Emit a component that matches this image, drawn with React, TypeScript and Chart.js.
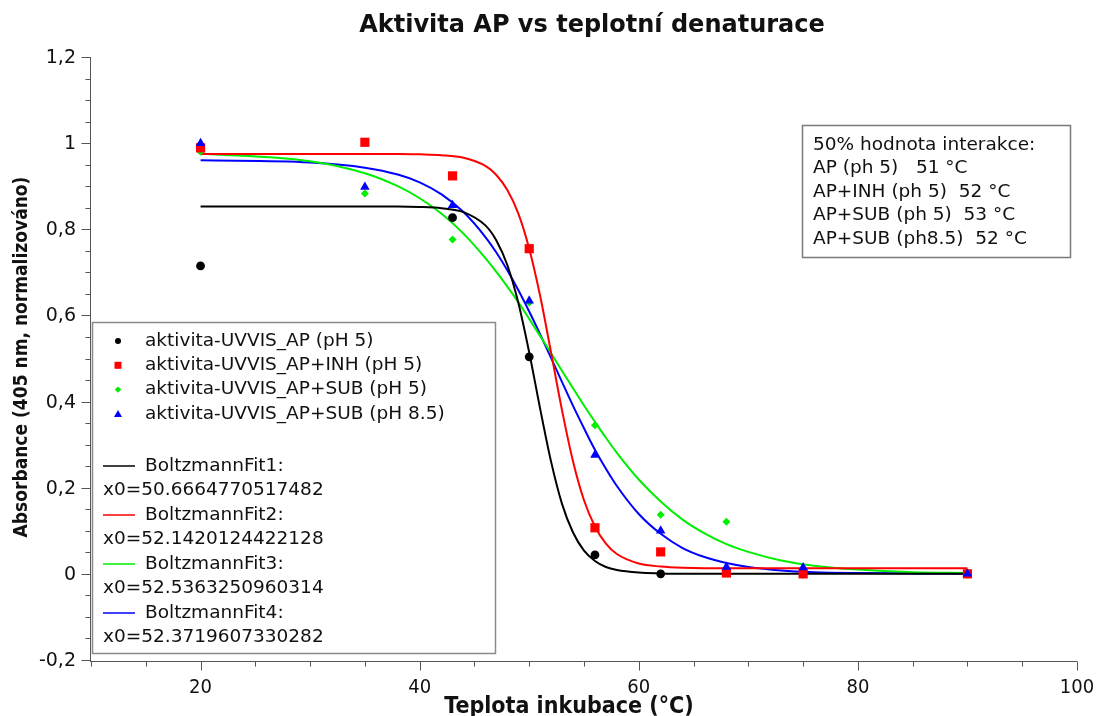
import { useEffect, useRef } from "react";
import { Chart, registerables } from "chart.js";

Chart.register(...registerables);

// Measured activity (normalised absorbance at 405 nm) vs incubation temperature
const tempC = [20, 35, 43, 50, 56, 62, 68, 75, 90];
const apTempC = [20, 43, 50, 56, 62, 68, 75, 90];
const apPH5 = [0.715, 0.827, 0.504, 0.044, 0.0, 0.003, 0.0, 0.0];
const apInhPH5 = [0.989, 1.002, 0.924, 0.755, 0.107, 0.051, 0.002, 0.0, 0.0];
const apSubPH5 = [0.98, 0.883, 0.776, 0.63, 0.345, 0.137, 0.121, 0.005, 0.0];
const apSubPH85 = [1.0, 0.898, 0.856, 0.634, 0.276, 0.1, 0.016, 0.015, 0.0];

// Boltzmann fit curves, sampled along the temperature axis
const fitTempC = [20, 30, 35, 38, 40, 42, 44, 46, 47, 48, 49, 50, 51, 52, 53, 54, 55, 56, 57, 58, 60, 62, 64, 66, 68, 70, 73, 76, 80, 85, 90];
const fit1 = [0.853, 0.853, 0.853, 0.853, 0.852, 0.849, 0.84, 0.809, 0.774, 0.717, 0.63, 0.514, 0.383, 0.26, 0.162, 0.096, 0.054, 0.03, 0.016, 0.009, 0.003, 0.001, 0, 0, 0, 0, 0, 0, 0, 0, 0];
const fit2 = [0.975, 0.975, 0.975, 0.975, 0.974, 0.972, 0.966, 0.947, 0.926, 0.891, 0.837, 0.755, 0.645, 0.513, 0.379, 0.261, 0.171, 0.11, 0.07, 0.046, 0.024, 0.017, 0.014, 0.013, 0.013, 0.013, 0.013, 0.013, 0.013, 0.013, 0.013];
const fit3 = [0.976, 0.958, 0.93, 0.9, 0.872, 0.836, 0.79, 0.733, 0.701, 0.667, 0.631, 0.592, 0.552, 0.512, 0.471, 0.431, 0.391, 0.353, 0.316, 0.281, 0.219, 0.168, 0.126, 0.094, 0.069, 0.051, 0.031, 0.019, 0.01, 0.004, 0.002];
const fit4 = [0.96, 0.955, 0.943, 0.927, 0.909, 0.881, 0.84, 0.782, 0.746, 0.705, 0.659, 0.609, 0.556, 0.501, 0.445, 0.39, 0.338, 0.288, 0.244, 0.204, 0.139, 0.093, 0.06, 0.039, 0.025, 0.016, 0.008, 0.004, 0.002, 0.001, 0];

const seriesNames = [
  "aktivita-UVVIS_AP (pH 5)",
  "aktivita-UVVIS_AP+INH (pH 5)",
  "aktivita-UVVIS_AP+SUB (pH 5)",
  "aktivita-UVVIS_AP+SUB (pH 8.5)",
];
const fitNames = ["BoltzmannFit1:", "BoltzmannFit2:", "BoltzmannFit3:", "BoltzmannFit4:"];
const fitCentres = ["x0=50.6664770517482", "x0=52.1420124422128", "x0=52.5363250960314", "x0=52.3719607330282"];
const noteLines = [
  "50% hodnota interakce:",
  "AP (ph 5)   51 °C",
  "AP+INH (ph 5)  52 °C",
  "AP+SUB (ph 5)  53 °C",
  "AP+SUB (ph8.5)  52 °C",
];

const yTickValues = [-0.2, 0, 0.2, 0.4, 0.6, 0.8, 1, 1.2];
const yTickLabels = ["-0,2", "0", "0,2", "0,4", "0,6", "0,8", "1", "1,2"];
const xTickValues = [20, 40, 60, 80, 100];
const xTickLabels = ["20", "40", "60", "80", "100"];

const colors = ["#000000", "#ff0000", "#00ee00", "#0000ff"];
const pointStyles = ["circle", "rect", "rectRot", "triangle"];

const TEXT = "#111111";
const SANS = '"DejaVu Sans", Verdana, sans-serif';
const NARROW = '"DejaVu Sans Condensed", "Liberation Sans Narrow", sans-serif';

const pairs = (xs: number[], ys: number[]) => ys.map((v, i) => ({ x: xs[i], y: v }));

function marker(ctx: CanvasRenderingContext2D, style: string, cx: number, cy: number, r: number, color: string) {
  ctx.fillStyle = color;
  ctx.beginPath();
  if (style === "circle") {
    ctx.arc(cx, cy, r, 0, Math.PI * 2);
  } else if (style === "rect") {
    ctx.rect(cx - r, cy - r, 2 * r, 2 * r);
  } else if (style === "rectRot") {
    ctx.moveTo(cx, cy - r);
    ctx.lineTo(cx + r, cy);
    ctx.lineTo(cx, cy + r);
    ctx.lineTo(cx - r, cy);
    ctx.closePath();
  } else {
    ctx.moveTo(cx, cy - r);
    ctx.lineTo(cx + r, cy + r * 0.8);
    ctx.lineTo(cx - r, cy + r * 0.8);
    ctx.closePath();
  }
  ctx.fill();
}

const decorPlugin = {
  id: "decor",
  afterDraw(chart: any) {
    const { ctx } = chart;
    const xs = chart.scales.x;
    const ys = chart.scales.y;
    ctx.save();

    // axis lines
    const axisX = Math.round(xs.left) - 0.5;
    const axisY = Math.round(ys.bottom) + 1.5;
    ctx.strokeStyle = "#555555";
    ctx.lineWidth = 1;
    ctx.beginPath();
    ctx.moveTo(axisX, ys.top);
    ctx.lineTo(axisX, ys.bottom + 1);
    ctx.moveTo(xs.left - 1, axisY);
    ctx.lineTo(xs.right, axisY);
    ctx.stroke();

    // y ticks (minor every 0.05, major every 0.2)
    ctx.beginPath();
    for (let k = 0; k <= 28; k++) {
      const v = -0.2 + k * 0.05;
      const py = Math.round(ys.getPixelForValue(v)) + 0.5;
      const len = k % 4 === 0 ? 9 : 5;
      ctx.moveTo(axisX - len, py);
      ctx.lineTo(axisX, py);
    }
    // x ticks (minor every 5, major every 20)
    for (let v = 10; v <= 100; v += 5) {
      const px = Math.round(xs.getPixelForValue(v)) + 0.5;
      const len = v % 20 === 0 ? 9 : 5;
      ctx.moveTo(px, axisY);
      ctx.lineTo(px, axisY + len);
    }
    ctx.stroke();

    // tick labels
    ctx.fillStyle = TEXT;
    ctx.font = `19px ${SANS}`;
    ctx.textAlign = "right";
    ctx.textBaseline = "middle";
    yTickValues.forEach((v, i) => {
      ctx.fillText(yTickLabels[i], 76, ys.getPixelForValue(v) + 1);
    });
    ctx.font = `20px ${NARROW}`;
    ctx.textAlign = "center";
    xTickValues.forEach((v, i) => {
      ctx.fillText(xTickLabels[i], xs.getPixelForValue(v), 688);
    });

    // titles
    ctx.font = `bold 24px ${SANS}`;
    ctx.fillText("Aktivita AP vs teplotní denaturace", 592, 26);
    ctx.font = `bold 23px ${NARROW}`;
    ctx.fillText("Teplota inkubace (°C)", 569, 707);
    ctx.font = `bold 19px ${NARROW}`;
    ctx.save();
    ctx.translate(22, 357);
    ctx.rotate(-Math.PI / 2);
    ctx.fillText("Absorbance (405 nm, normalizováno)", 0, 0);
    ctx.restore();

    // legend box
    ctx.fillStyle = "#ffffff";
    ctx.fillRect(92, 322, 404, 332);
    ctx.strokeStyle = "#8a8a8a";
    ctx.lineWidth = 1.5;
    ctx.strokeRect(92.5, 322.5, 403, 331);
    ctx.font = `18.5px ${SANS}`;
    ctx.textAlign = "left";
    const markerSizes = [3, 3.5, 3.2, 4];
    seriesNames.forEach((name, i) => {
      const cy = 341 + i * 24.3;
      marker(ctx, pointStyles[i], 118, cy, markerSizes[i], colors[i]);
      ctx.fillStyle = TEXT;
      ctx.fillText(name, 145, cy);
    });
    fitNames.forEach((name, i) => {
      const cy = 466 + i * 49;
      ctx.strokeStyle = colors[i];
      ctx.lineWidth = 1.5;
      ctx.beginPath();
      ctx.moveTo(103, cy);
      ctx.lineTo(135, cy);
      ctx.stroke();
      ctx.fillStyle = TEXT;
      ctx.fillText(name, 145, cy);
      ctx.fillText(fitCentres[i], 103, cy + 24.5);
    });

    // note box
    ctx.fillStyle = "#ffffff";
    ctx.fillRect(802, 125, 269, 133);
    ctx.strokeStyle = "#7a7a7a";
    ctx.lineWidth = 1.5;
    ctx.strokeRect(802.5, 125.5, 268, 132);
    ctx.fillStyle = TEXT;
    noteLines.forEach((line, i) => {
      ctx.fillText(line, 813, 145 + i * 23.5);
    });

    ctx.restore();
  },
};

export default function App() {
  const canvasRef = useRef<HTMLCanvasElement | null>(null);

  useEffect(() => {
    const canvas = canvasRef.current;
    if (!canvas) return;
    const lineSet = (data: number[], i: number) => ({
      type: "line" as const,
      data: pairs(fitTempC, data),
      borderColor: colors[i],
      borderWidth: 2,
      pointRadius: 0,
      fill: false,
      showLine: true,
      cubicInterpolationMode: "monotone" as const,
      order: 10 + i,
    });
    const pointSet = (xs: number[], data: number[], i: number, radius: number, order: number) => ({
      type: "scatter" as const,
      data: pairs(xs, data),
      backgroundColor: colors[i],
      borderColor: colors[i],
      borderWidth: 0,
      pointStyle: pointStyles[i],
      pointRadius: radius,
      showLine: false,
      order,
    });
    const chart = new Chart(canvas, {
      type: "scatter",
      data: {
        datasets: [
          pointSet(apTempC, apPH5, 0, 4.4, 3),
          pointSet(tempC, apInhPH5, 1, 6.5, 1),
          pointSet(tempC, apSubPH5, 2, 4, 2),
          pointSet(tempC, apSubPH85, 3, 5.5, 0),
          lineSet(fit1, 0),
          lineSet(fit2, 1),
          lineSet(fit3, 2),
          lineSet(fit4, 3),
        ] as any,
      },
      options: {
        responsive: false,
        animation: false,
        events: [],
        layout: { padding: { left: 91, right: 19, top: 57, bottom: 56 } },
        plugins: { legend: { display: false }, tooltip: { enabled: false }, title: { display: false } },
        scales: {
          x: { type: "linear", min: 10, max: 100, display: false },
          y: { type: "linear", min: -0.2, max: 1.2, display: false },
        },
      },
      plugins: [decorPlugin],
    });
    return () => chart.destroy();
  }, []);

  return (
    <div style={{ position: "fixed", left: 0, top: 0, width: 1096, height: 716, background: "#fff" }}>
      <canvas ref={canvasRef} width={1096} height={716} />
    </div>
  );
}
